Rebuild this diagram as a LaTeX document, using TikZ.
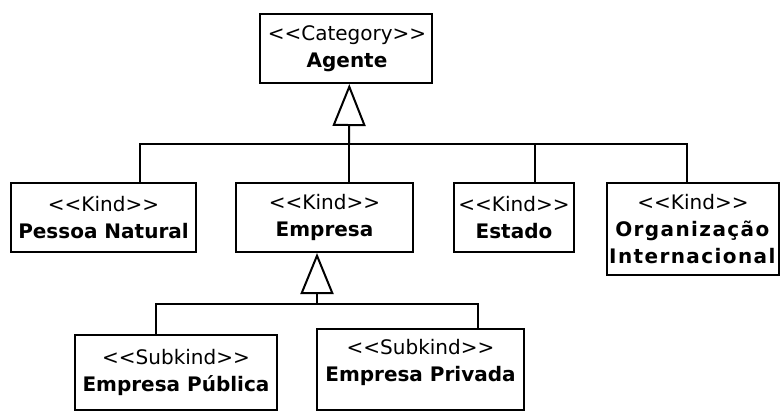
\documentclass[tikz,border=0pt]{standalone}
\usepackage{fontspec}
\setmainfont{DejaVu Sans}
\usetikzlibrary{arrows.meta,calc}
\newcommand{\stL}{<\kern0pt<}
\newcommand{\stR}{>\kern0pt>}
\begin{document}
\begin{tikzpicture}[x=0.75pt,y=-0.75pt,
  box/.style={draw, line width=1.5pt, inner sep=0pt, rectangle},
  lbl/.style={align=center, inner sep=0pt, font=\fontsize{15pt}{20.25pt}\selectfont},
  conn/.style={line width=1.5pt},
  gen/.style={conn, -{Triangle[open, length=31.5pt, width=24.75pt]}},
  gentwo/.style={conn, -{Triangle[open, length=30.75pt, width=24.75pt]}}]
\useasboundingbox (0,0) rectangle (780,412);
% boxes
\node[box, minimum width=172*0.75pt, minimum height=69*0.75pt] (agente) at (346,48.5) {};
\node[box, minimum width=185*0.75pt, minimum height=69*0.75pt] (pessoa) at (103.5,217.5) {};
\node[box, minimum width=177*0.75pt, minimum height=69*0.75pt] (emp) at (324.5,217.5) {};
\node[box, minimum width=120*0.75pt, minimum height=69*0.75pt] (estado) at (514,217.5) {};
\node[box, minimum width=172*0.75pt, minimum height=92*0.75pt] (org) at (693,229) {};
\node[box, minimum width=202*0.75pt, minimum height=75*0.75pt] (pub) at (176,372.5) {};
\node[box, minimum width=207*0.75pt, minimum height=81*0.75pt] (priv) at (420.5,369.5) {};
% labels
\node[lbl] (tagente) at ($(agente)+(1,0)$) {\stL Category\stR\\\textbf{Agente}};
\node[lbl] (tpessoa) at (pessoa) {\stL Kind\stR\\\textbf{Pessoa Natural}};
\node[lbl] (temp) at (emp) {\stL Kind\stR\\\textbf{Empresa}};
\node[lbl] (testado) at (estado) {\stL Kind\stR\\\textbf{Estado}};
\node[lbl] (torg) at (org) {\stL Kind\stR\\{\addfontfeature{LetterSpace=7}\textbf{Organização}}\\{\addfontfeature{LetterSpace=7}\textbf{Internacional}}};
\node[lbl] (tpub) at (pub) {\stL Subkind\stR\\\textbf{Empresa Pública}};
\node[lbl] (tpriv) at ($(priv)+(0,-7)$) {\stL Subkind\stR\\\textbf{Empresa Privada}};
% upper generalization set
\coordinate (gA) at ($(agente.south)+(3.3,0)$);
\coordinate (busA) at (349,143.5);
\coordinate (pTop) at ($(pessoa.north)+(36.5,0)$);
\coordinate (eTop) at ($(emp.north)+(24.5,0)$);
\coordinate (sTop) at ($(estado.north)+(21,0)$);
\coordinate (oTop) at ($(org.north)+(-6,0)$);
\draw[conn] (pTop) |- (busA) -| (oTop);
\draw[conn] (sTop) -- (sTop |- busA);
\draw[conn] (eTop) -- (busA);
\draw[gen] (busA) -- (gA);
% lower generalization set
\coordinate (gE) at ($(emp.south)+(-7.5,0)$);
\coordinate (busE) at (317,304);
\coordinate (uTop) at ($(pub.north)+(-20,0)$);
\coordinate (vTop) at ($(priv.north)+(57.5,0)$);
\draw[conn] (uTop) |- (busE) -| (vTop);
\draw[gentwo] (busE) -- (gE);
\end{tikzpicture}
\end{document}
